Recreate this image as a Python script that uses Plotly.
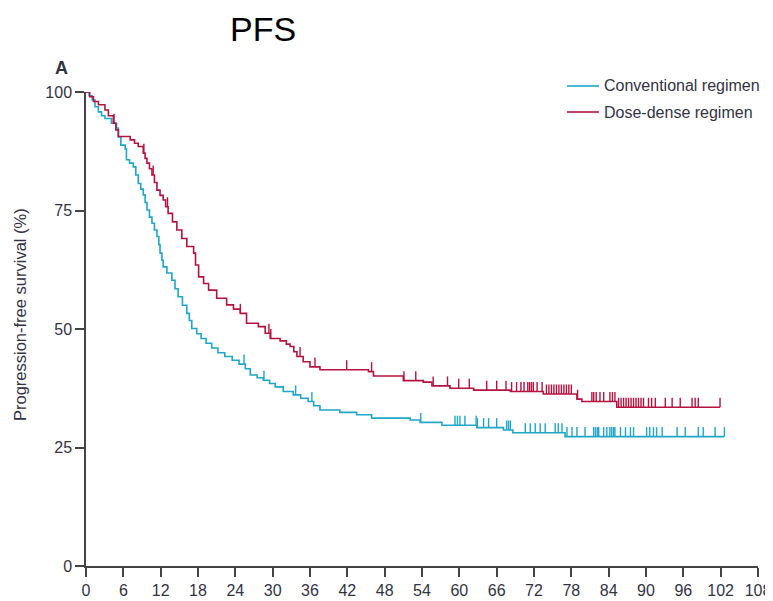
import numpy as np
import plotly.graph_objects as go

# ---- data (months, % progression-free) ----
conv_t = [0, 0.5, 1.0, 1.45, 1.98, 2.5, 3.05, 4.1, 4.9, 5.2, 5.6, 6.3, 6.5, 7.0, 7.6, 8.0, 8.4, 8.8,
          9.2, 9.5, 9.8, 10.2, 10.6, 11.0, 11.4, 11.7, 11.9, 12.2, 12.4, 13.0, 13.8, 14.3, 14.8, 15.5,
          16.2, 16.6, 17.0, 17.8, 18.5, 19.3, 20.2, 21.2, 22.3, 23.5, 24.6, 25.6, 26.4, 27.5, 28.5,
          29.5, 30.4, 31.7, 33.3, 34.5, 35.7, 36.6, 37.6, 40.8, 43.5, 45.9, 52.1, 53.7, 57.2, 62.8,
          67.1, 68.6, 77.0, 102.6]
conv_s = [100, 99.2, 98.3, 96.9, 95.8, 95.0, 94.4, 93.4, 92.4, 90.5, 88.8, 88.0, 85.7, 85.0, 84.2, 82.5,
          80.7, 79.5, 78.3, 76.7, 75.1, 73.6, 72.3, 70.9, 69.5, 67.8, 66.0, 64.5, 63.1, 61.8, 60.3, 58.5,
          56.8, 55.0, 53.3, 51.8, 50.1, 49.0, 48.0, 47.0, 46.0, 45.0, 44.2, 43.4, 42.6, 41.6, 40.3, 39.7,
          39.2, 38.5, 37.8, 36.8, 36.1, 35.4, 34.7, 33.8, 32.9, 32.4, 31.9, 31.2, 30.8, 30.3, 29.7, 29.2,
          28.7, 28.1, 27.3, 27.3]

dd_t = [0, 0.6, 1.2, 2.0, 3.05, 3.6, 4.4, 4.8, 5.2, 7.1, 7.8, 8.4, 9.2, 9.5, 9.8, 10.2, 10.6, 11.0,
        11.4, 11.9, 12.4, 12.8, 13.2, 13.9, 14.6, 15.4, 16.2, 17.3, 17.6, 18.1, 18.9, 19.7, 21.0, 22.6,
        23.7, 24.8, 25.8, 27.7, 28.8, 29.6, 31.2, 32.2, 32.8, 33.4, 33.9, 34.9, 36.0, 37.6, 45.4, 46.2,
        51.0, 54.2, 55.6, 58.5, 62.3, 68.2, 73.5, 78.9, 79.7, 85.3, 101.9]
dd_s = [100, 99.0, 98.0, 97.3, 96.2, 95.0, 93.4, 92.0, 90.6, 89.9, 89.2, 88.5, 87.1, 86.0, 85.0, 83.8,
        82.5, 80.9, 79.3, 78.2, 77.2, 75.8, 74.4, 72.6, 70.9, 69.1, 67.4, 66.0, 63.5, 61.0, 59.6, 58.2,
        56.5, 55.1, 54.2, 53.3, 51.2, 50.5, 49.1, 48.0, 47.5, 46.8, 46.3, 45.2, 44.2, 43.1, 42.0, 41.4,
        41.0, 40.1, 39.1, 38.8, 38.0, 37.5, 37.1, 36.8, 36.3, 35.2, 34.7, 33.5, 33.5]

conv_censor = [25.4, 28.6, 33.7, 36.3, 53.8, 59.3, 59.7, 60.1, 60.9, 62.7, 62.9, 63.9, 64.7, 66.0, 67.6,
               67.9, 68.2, 70.6, 71.4, 72.2, 73.0, 73.8, 75.4, 75.9, 76.5, 77.3, 78.1, 78.9, 80.2, 81.6,
               81.9, 82.2, 82.4, 83.2, 83.7, 84.2, 84.5, 84.8, 85.0, 85.9, 86.7, 87.5, 88.0, 90.1, 90.6,
               91.2, 91.7, 92.6, 95.0, 96.3, 98.4, 99.2, 101.1, 102.6]
dd_censor = [4.5, 9.3, 10.8, 13.1, 24.8, 29.4, 29.7, 34.4, 36.8, 41.9, 45.9, 51.1, 53.0, 55.8, 58.1,
             59.9, 61.6, 64.4, 66.0, 67.5, 68.4, 69.2, 69.9, 70.4, 71.0, 71.3, 71.6, 71.9, 72.5, 73.3,
             74.0, 74.4, 74.8, 75.2, 75.6, 76.0, 76.4, 76.8, 77.2, 77.6, 78.0, 79.0, 81.3, 81.6, 82.0,
             82.6, 83.2, 84.2, 84.6, 85.0, 85.6, 86.0, 86.4, 86.8, 87.2, 87.6, 88.0, 88.4, 88.8, 89.2,
             89.6, 90.4, 90.9, 91.5, 93.1, 94.2, 95.5, 97.4, 97.9, 98.4, 101.9]

x_ticks = list(range(0, 109, 6))
y_ticks = [0, 25, 50, 75, 100]

series_names = ["Conventional regimen", "Dose-dense regimen"]
colors = ["#1fa6c9", "#b5133f"]
TICK_H = 2.0

fig = go.Figure()


def censor_segments(times, ev_t, ev_s):
    ev_t = np.asarray(ev_t)
    ev_s = np.asarray(ev_s)
    xs, ys = [], []
    for c in times:
        idx = np.searchsorted(ev_t, c, side="right") - 1
        s = float(ev_s[max(idx, 0)])
        xs += [c, c, None]
        ys += [s, s + TICK_H, None]
    return xs, ys


for name, col, t, s, cens in [
    (series_names[0], colors[0], conv_t, conv_s, conv_censor),
    (series_names[1], colors[1], dd_t, dd_s, dd_censor),
]:
    fig.add_trace(go.Scatter(x=t, y=s, mode="lines", line=dict(color=col, width=1.6, shape="hv"),
                             name=name, showlegend=False, hoverinfo="skip"))
    cx, cy = censor_segments(cens, t, s)
    fig.add_trace(go.Scatter(x=cx, y=cy, mode="lines", line=dict(color=col, width=1.4),
                             showlegend=False, hoverinfo="skip"))

# page has an 8px body margin: the figure is placed at (8, 8) in the window
OFF = 8
W, H = 773 - OFF, 601 - OFF
L, T = 86 - OFF, 92 - OFF
R = W - (758 - OFF)
B = H - (566 - OFF)
pw, ph = W - L - R, H - T - B


def px2paper(px, py):
    # px, py in window pixels
    return (px - OFF - L) / pw, (H - B - (py - OFF)) / ph


axis_col = "#444444"
FONT = "Liberation Sans, Arial, sans-serif"
tick_font = dict(family=FONT, size=16, color="#333344")

fig.update_xaxes(range=[0, 108], tickvals=x_ticks, ticktext=[str(v) for v in x_ticks],
                 showgrid=False, zeroline=False, showline=True, linecolor=axis_col, linewidth=1.5,
                 ticks="outside", ticklen=9, tickwidth=1.5, tickcolor=axis_col, tickfont=tick_font,
                 automargin=False)
fig.update_yaxes(range=[0, 100], tickvals=y_ticks, ticktext=[str(v) for v in y_ticks],
                 showgrid=False, zeroline=False, showline=True, linecolor=axis_col, linewidth=1.5,
                 ticks="outside", ticklen=9, tickwidth=1.5, tickcolor=axis_col, tickfont=tick_font,
                 automargin=False)

annotations = []
# y-axis title
ax, ay = px2paper(20, 315)
annotations.append(dict(text="Progression-free survival (%)", x=ax, y=ay, xref="paper", yref="paper",
                        textangle=-90, showarrow=False, xanchor="center", yanchor="middle",
                        font=dict(family=FONT, size=16.5, color="#333344")))
# panel letter
ax, ay = px2paper(61, 68)
annotations.append(dict(text="<b>A</b>", x=ax, y=ay, xref="paper", yref="paper", showarrow=False,
                        xanchor="center", yanchor="middle",
                        font=dict(family=FONT, size=18, color="#333344")))
# big title (box anchored at its top, just inside the figure)
ax, ay = px2paper(263, 9)
annotations.append(dict(text="PFS", x=ax, y=ay, xref="paper", yref="paper", showarrow=False,
                        xanchor="center", yanchor="top", borderpad=0,
                        font=dict(family=FONT, size=34, color="#000000")))

shapes = []
legend_rows = [86, 112]
for name, col, ry in zip(series_names, colors, legend_rows):
    x0, y0 = px2paper(567, ry)
    x1, _ = px2paper(599, ry)
    shapes.append(dict(type="line", xref="paper", yref="paper", x0=x0, x1=x1, y0=y0, y1=y0,
                       line=dict(color=col, width=1.6)))
    tx, _ = px2paper(602, ry)
    annotations.append(dict(text=name, x=tx, y=y0, xref="paper", yref="paper", showarrow=False,
                            xanchor="left", yanchor="middle",
                            font=dict(family=FONT, size=16, color="#333344")))

fig.update_layout(width=W, height=H, margin=dict(l=L, r=R, t=T, b=B, autoexpand=False),
                  plot_bgcolor="white", paper_bgcolor="white", annotations=annotations,
                  shapes=shapes, showlegend=False)

fig.write_html("out.html")
